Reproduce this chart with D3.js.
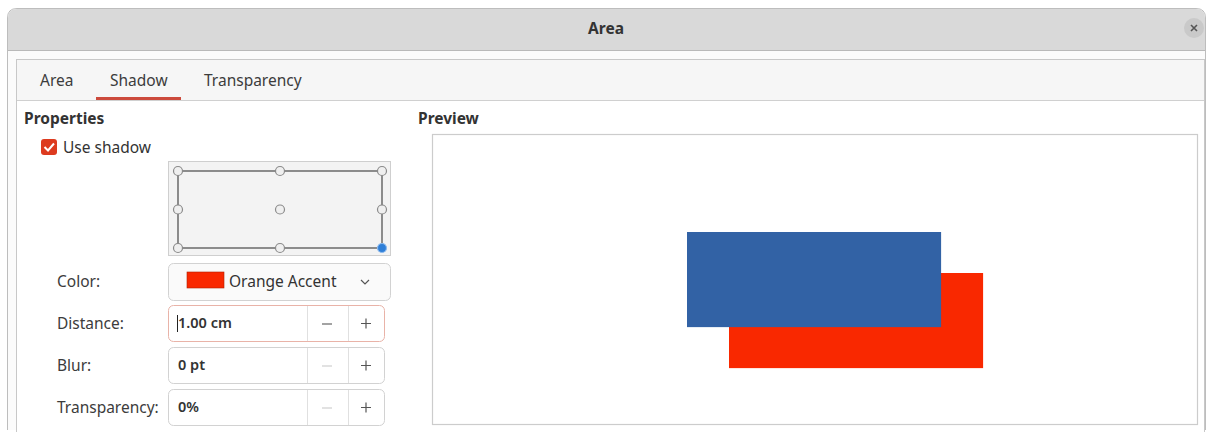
<!DOCTYPE html>
<html><head><meta charset="utf-8">
<script src="https://cdn.jsdelivr.net/npm/d3@7"></script>
<style>
html,body{margin:0;padding:0;background:#fff;}
svg{display:block;font-family:"Noto Sans","Open Sans",sans-serif;}
</style></head>
<body><svg id="c" width="1213" height="432"></svg>
<script>
// ---- data ----
const dialogTitle = "Area";
const tabNames = ["Area", "Shadow", "Transparency"];
const activeTab = "Shadow";
const sectionTitles = ["Properties", "Preview"];
const checkboxLabel = "Use shadow";
const fieldLabels = ["Color:", "Distance:", "Blur:", "Transparency:"];
const fieldValues = ["Orange Accent", "1.00 cm", "0 pt", "0%"];
const gridCols = [0, 1, 2];
const gridRows = [0, 1, 2];
const selectedCell = [2, 2];
const shapeNames = ["shadow", "object"];
const shapeX = [1.0, 0.0];   // cm (shadow offset = distance)
const shapeY = [1.0, 0.0];
const shapeW = [6.05, 6.05];
const shapeH = [2.32, 2.32];
const shapeColors = ["#f92800", "#3262a5"];

const svg = d3.select("#c");
const FS = 15.5;

// dialog frame
svg.append("path").attr("d","M7.5,430 V18 Q7.5,8.5 17,8.5 H1196 Q1205.5,8.5 1205.5,18 V430")
  .attr("fill","#fbfbfb").attr("stroke","#bdbdbd");
svg.append("path").attr("d","M8,50 V18 Q8,9 17,9 H1196 Q1205,9 1205,18 V50 Z").attr("fill","#d9d9d9");
svg.append("line").attr("x1",8).attr("x2",1205).attr("y1",50.5).attr("y2",50.5).attr("stroke","#b9b9b9");
svg.append("text").attr("x",606).attr("y",34).attr("text-anchor","middle")
  .attr("font-size",FS).attr("font-weight","bold").attr("fill","#333").text(dialogTitle);
svg.append("circle").attr("cx",1194).attr("cy",28).attr("r",10).attr("fill","#c9c9c9");
svg.append("path").attr("d","M1191,25 L1197,31 M1197,25 L1191,31").attr("stroke","#555").attr("stroke-width",1.6);

// notebook
svg.append("rect").attr("x",16.5).attr("y",59.5).attr("width",1188).attr("height",380)
  .attr("fill","#fff").attr("stroke","#c8c8c8");
svg.append("rect").attr("x",17).attr("y",60).attr("width",1187).attr("height",40).attr("fill","#f6f6f6");
svg.append("line").attr("x1",17).attr("x2",1204).attr("y1",100.5).attr("y2",100.5).attr("stroke","#d0d0d0");

const tabX = [40, 110, 204];
const tabW = [35, 57, 98];
const tabG = svg.append("g");
tabNames.forEach((t,i)=>{
  tabG.append("text").attr("x",tabX[i]).attr("y",86).attr("font-size",FS).attr("fill","#3c3c3c").text(t);
  if(t===activeTab){
    tabG.append("rect").attr("x",tabX[i]-14).attr("y",97).attr("width",tabW[i]+28).attr("height",3)
      .attr("fill","#cc4a3c");
  }
});

// section titles
svg.append("text").attr("x",24).attr("y",124).attr("font-size",FS).attr("font-weight","bold").attr("fill","#333").text(sectionTitles[0]);
svg.append("text").attr("x",418).attr("y",124).attr("font-size",FS).attr("font-weight","bold").attr("fill","#333").text(sectionTitles[1]);

// checkbox
svg.append("rect").attr("x",41).attr("y",139).attr("width",16).attr("height",16).attr("rx",3).attr("fill","#dd3b1f");
svg.append("path").attr("d","M44.5,147 L48,150.5 L54,143.5").attr("fill","none").attr("stroke","#fff").attr("stroke-width",2);
svg.append("text").attr("x",63).attr("y",153).attr("font-size",FS).attr("fill","#333").text(checkboxLabel);

// position grid
svg.append("rect").attr("x",168.5).attr("y",161.5).attr("width",222).attr("height",94)
  .attr("fill","#f3f3f3").attr("stroke","#cfcfcf");
const gx = d3.scalePoint().domain(gridCols).range([178,382]);
const gy = d3.scalePoint().domain(gridRows).range([171,248]);
svg.append("rect").attr("x",gx(0)).attr("y",gy(0)).attr("width",gx(2)-gx(0)).attr("height",gy(2)-gy(0))
  .attr("fill","none").attr("stroke","#555").attr("stroke-width",1.3);
gridRows.forEach(r=>gridCols.forEach(c=>{
  const sel = c===selectedCell[0] && r===selectedCell[1];
  svg.append("circle").attr("cx",gx(c)).attr("cy",gy(r)).attr("r",4.5)
    .attr("fill", sel ? "#2f7fd8" : "#efefef").attr("stroke", sel ? "#8cb9ec" : "#8a8a8a").attr("stroke-width",1.2);
}));

// fields
const rowY = [263, 305, 347, 389];
const rowH = 37;
fieldLabels.forEach((l,i)=>{
  svg.append("text").attr("x",57).attr("y",rowY[i]+24).attr("font-size",FS).attr("fill","#3c3c3c").text(l);
});
// color dropdown
svg.append("rect").attr("x",168.5).attr("y",rowY[0]+0.5).attr("width",222).attr("height",rowH).attr("rx",5)
  .attr("fill","#fafafa").attr("stroke","#d2d2d2");
svg.append("rect").attr("x",187).attr("y",272).attr("width",37).attr("height",16).attr("fill",shapeColors[0]).attr("stroke","#b02000").attr("stroke-width",0.6);
svg.append("text").attr("x",229).attr("y",rowY[0]+24).attr("font-size",FS).attr("fill","#333").text(fieldValues[0]);
svg.append("path").attr("d","M361,280 L365,284 L369,280").attr("fill","none").attr("stroke","#555").attr("stroke-width",1.2);
// spin fields
[1,2,3].forEach(i=>{
  const y = rowY[i];
  const focus = i===1;
  svg.append("rect").attr("x",168.5).attr("y",y+0.5).attr("width",216).attr("height",rowH-1).attr("rx",5)
    .attr("fill","#fff").attr("stroke", focus ? "#e9b3a8" : "#d2d2d2");
  svg.append("line").attr("x1",307.5).attr("x2",307.5).attr("y1",y+1).attr("y2",y+rowH-1).attr("stroke","#e0e0e0");
  svg.append("line").attr("x1",348.5).attr("x2",348.5).attr("y1",y+1).attr("y2",y+rowH-1).attr("stroke","#e0e0e0");
  svg.append("text").attr("x",178).attr("y",y+23).attr("font-size",14.5).attr("font-weight",600).attr("fill","#333").text(fieldValues[i]);
  svg.append("path").attr("d",`M322,${y+19} H332`).attr("stroke", focus ? "#666" : "#cfcfcf").attr("stroke-width",1.2);
  svg.append("path").attr("d",`M361,${y+18.5} H371 M366,${y+13.5} V${y+23.5}`).attr("stroke","#555").attr("stroke-width",1.2);
});
svg.append("line").attr("x1",177.5).attr("x2",177.5).attr("y1",rowY[1]+10).attr("y2",rowY[1]+27).attr("stroke","#222");

// preview
svg.append("rect").attr("x",432.5).attr("y",134.5).attr("width",765).attr("height",290)
  .attr("fill","#fff").attr("stroke","#cccccc").attr("stroke-width",1.2);
const px = d3.scaleLinear().domain([0,1]).range([687,729]);
const py = d3.scaleLinear().domain([0,1]).range([232,273]);
svg.selectAll("rect.shape").data(shapeNames).join("rect").attr("class","shape")
  .attr("x",(d,i)=>px(shapeX[i])).attr("y",(d,i)=>py(shapeY[i]))
  .attr("width",(d,i)=>px(shapeW[i])-px(0)).attr("height",(d,i)=>py(shapeH[i])-py(0))
  .attr("fill",(d,i)=>shapeColors[i]);
</script></body></html>
